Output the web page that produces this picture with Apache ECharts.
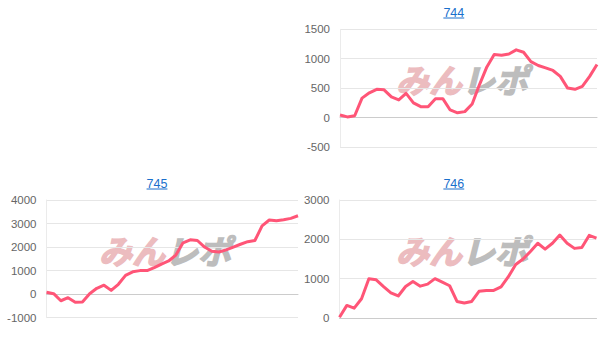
<!DOCTYPE html>
<html>
<head>
<meta charset="utf-8">
<script src="https://cdn.jsdelivr.net/npm/echarts@6/dist/echarts.min.js"></script>
<style>
html,body{margin:0;padding:0;background:#fff;}
#chart{width:606px;height:354px;}
</style>
</head>
<body>
<div id="chart"></div>
<script>
// ---- data ----
const titles = ['744', '745', '746'];
const values744 = [43, 10, 30, 330, 420, 480, 470, 350, 300, 410, 250, 184, 184, 320, 320, 128, 80, 100, 230, 560, 860, 1070, 1060, 1080, 1150, 1110, 950, 885, 845, 800, 700, 500, 480, 530, 700, 900];
const values745 = [85, 20, -280, -150, -340, -330, 20, 250, 380, 160, 420, 800, 950, 1000, 1000, 1130, 1280, 1410, 1660, 2180, 2310, 2280, 2000, 1820, 1790, 1880, 2000, 2120, 2230, 2280, 2900, 3150, 3120, 3160, 3220, 3330];
const values746 = [20, 320, 250, 490, 1000, 970, 800, 640, 560, 800, 930, 810, 860, 1000, 910, 820, 420, 380, 420, 680, 700, 700, 790, 1050, 1360, 1500, 1690, 1900, 1750, 1900, 2110, 1900, 1770, 1790, 2100, 2030];
const yMins = [-500, -1000, 0];
const yMaxs = [1500, 4000, 3000];
const yIntervals = [500, 1000, 1000];
const watermarkLeft = 'みん';
const watermarkRight = 'レポ';

const seriesValues = [values744, values745, values746];

// ---- layout ----
const grids = [
  {left: 340, top: 29.3, width: 257, height: 117.6},
  {left: 46.5, top: 200, width: 251.5, height: 117.7},
  {left: 339.5, top: 200, width: 257, height: 118}
];
const titlePos = [[453.8, 12.5], [157, 183.5], [453.8, 183.5]];
const wmPos = [[396, 62], [99, 233.5], [396, 233.5]];

const LINE = '#ff5577';
const LINK = '#1a6fcc';
const FONT = 'Liberation Sans, Arial, sans-serif';

function textWidth(t, size) {
  const c = document.createElement('canvas').getContext('2d');
  c.font = size + 'px ' + FONT;
  return c.measureText(t).width;
}

const chart = echarts.init(document.getElementById('chart'), null, {renderer: 'svg'});

const graphic = [];
titles.forEach((t, i) => {
  const [cx, cy] = titlePos[i];
  const w = textWidth(t, 12.5);
  graphic.push({
    type: 'text', x: cx, y: cy, z: 10,
    style: {text: t, fill: LINK, font: '12.5px ' + FONT, textAlign: 'center', textVerticalAlign: 'middle'}
  });
  graphic.push({
    type: 'line', z: 10,
    shape: {x1: cx - w / 2, y1: cy + 5.5, x2: cx + w / 2, y2: cy + 5.5},
    style: {stroke: LINK, lineWidth: 1}
  });
});
wmPos.forEach(([x, y]) => {
  graphic.push({
    type: 'text', x: x, y: y, z: -1, silent: true,
    style: {
      text: '{a|' + watermarkLeft + '}{b|' + watermarkRight + '}',
      rich: {
        a: {fill: '#ecbcbf', font: 'italic bold 33px "Noto Sans CJK JP", sans-serif', stroke: '#ecbcbf', lineWidth: 1.5},
        b: {fill: '#bdbdbd', font: 'italic bold 33px "Noto Sans CJK JP", sans-serif', stroke: '#bdbdbd', lineWidth: 1.5}
      }
    }
  });
});

const option = {
  animation: false,
  backgroundColor: '#fff',
  grid: grids.map(g => Object.assign({containLabel: false}, g)),
  xAxis: seriesValues.map((vals, i) => ({
    type: 'category', gridIndex: i, boundaryGap: false,
    data: vals.map((_, k) => String(k + 1)),
    axisLabel: {show: false}, axisTick: {show: false},
    axisLine: {show: true, onZero: true, lineStyle: {color: '#cccccc', width: 1}},
    splitLine: {show: false}
  })),
  yAxis: seriesValues.map((vals, i) => ({
    type: 'value', gridIndex: i,
    min: yMins[i], max: yMaxs[i], interval: yIntervals[i],
    axisLine: {show: true, lineStyle: {color: '#ebebeb'}},
    axisTick: {show: false},
    axisLabel: {color: '#666', fontSize: 11.5, fontFamily: FONT, margin: 10, formatter: v => String(v)},
    splitLine: {lineStyle: {color: '#e6e6e6', width: 1}}
  })),
  series: seriesValues.map((vals, i) => ({
    type: 'line', xAxisIndex: i, yAxisIndex: i, data: vals,
    symbol: 'none', smooth: false, z: 5,
    lineStyle: {color: LINE, width: 3, join: 'round'}
  })),
  graphic: graphic
};
chart.setOption(option);
</script>
</body>
</html>
